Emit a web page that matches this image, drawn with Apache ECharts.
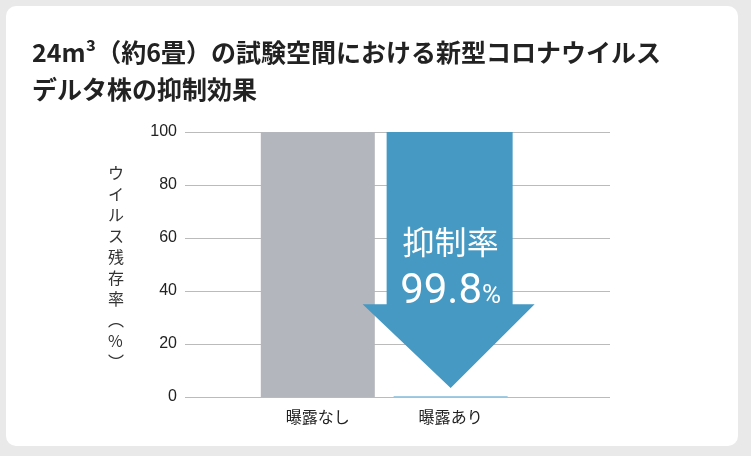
<!DOCTYPE html><html><head><meta charset="utf-8">
<script src="https://cdn.jsdelivr.net/npm/echarts@6/dist/echarts.min.js"></script>
<style>html,body{margin:0;background:#e9e9ea}#c{width:751px;height:456px}</style></head><body><div id="c"></div>
<script>
const categories=['曝露なし','曝露あり'];
const values=[100,0.2];
const yTicks=[0,20,40,60,80,100];
const reduction='99.8';
const ch=echarts.init(document.getElementById('c'));
const blue='#4699c3';
ch.setOption({
 backgroundColor:'#e9e9ea',
 animation:false,
 graphic:[
  {type:'rect',shape:{x:6,y:6,width:732,height:440,r:10},style:{fill:'#fff'},z:-10},
  {type:'text',left:32,top:34,style:{text:'24m³（約6畳）の試験空間における新型コロナウイルス\nデルタ株の抑制効果',font:'bold 25px "Noto Sans CJK JP"',lineHeight:37,fill:'#222'}},
  {type:'text',left:108,top:162,style:{text:'ウ\nイ\nル\nス\n残\n存\n率\n︵\n%\n︶',font:'16px "Noto Sans CJK JP"',lineHeight:21,fill:'#333',align:'left'}}
 ],
 grid:{left:185,right:141,top:132,bottom:59},
 xAxis:{type:'value',min:0,max:3.2,interval:1,splitLine:{show:false},axisTick:{show:false},
  axisLine:{show:false},
  axisLabel:{color:'#222',fontSize:16,margin:12,fontFamily:'"Noto Sans CJK JP"',formatter:v=>categories[v-1]||''}},
 yAxis:{type:'value',min:0,max:100,interval:20,axisLine:{show:false},axisTick:{show:false},
  axisLabel:{color:'#222',fontSize:16,margin:8},splitLine:{lineStyle:{color:'#bbb'}}},
 series:[
  {type:'bar',barWidth:114,data:[[1,values[0]]],itemStyle:{color:'#b4b6bd'}},
  {type:'bar',barWidth:114,barGap:'-100%',data:[[2,values[1]]],itemStyle:{color:blue}},
  {type:'custom',z:5,data:[[2,values[0]]],renderItem:(p,api)=>{
    const top=api.coord([api.value(0),api.value(1)]);
    const bot=api.coord([api.value(0),0]);
    const cx=top[0],t=top[1],h=bot[1]-t;
    const sh=h*0.65,tip=bot[1]-9;
    return {type:'group',children:[
     {type:'polygon',shape:{points:[[cx-64,t],[cx+62,t],[cx+62,t+sh],[cx+84,t+sh],[cx,tip],[cx-88,t+sh],[cx-64,t+sh]]},style:{fill:blue}},
     {type:'text',style:{text:'抑制率',x:cx,y:t+110,align:'center',verticalAlign:'middle',font:'32px "Noto Sans CJK JP"',fill:'#fff'}},
     {type:'text',style:{text:'{a|'+reduction+'}{b|%}',x:cx,y:t+160,align:'center',verticalAlign:'middle',fill:'#fff',
       rich:{a:{fontSize:42,fontFamily:'Roboto',color:'#fff'},b:{fontSize:26,fontFamily:'Roboto',color:'#fff',padding:[8,0,0,0]}}}}
    ]};
  }}
 ]
});
</script></body></html>
